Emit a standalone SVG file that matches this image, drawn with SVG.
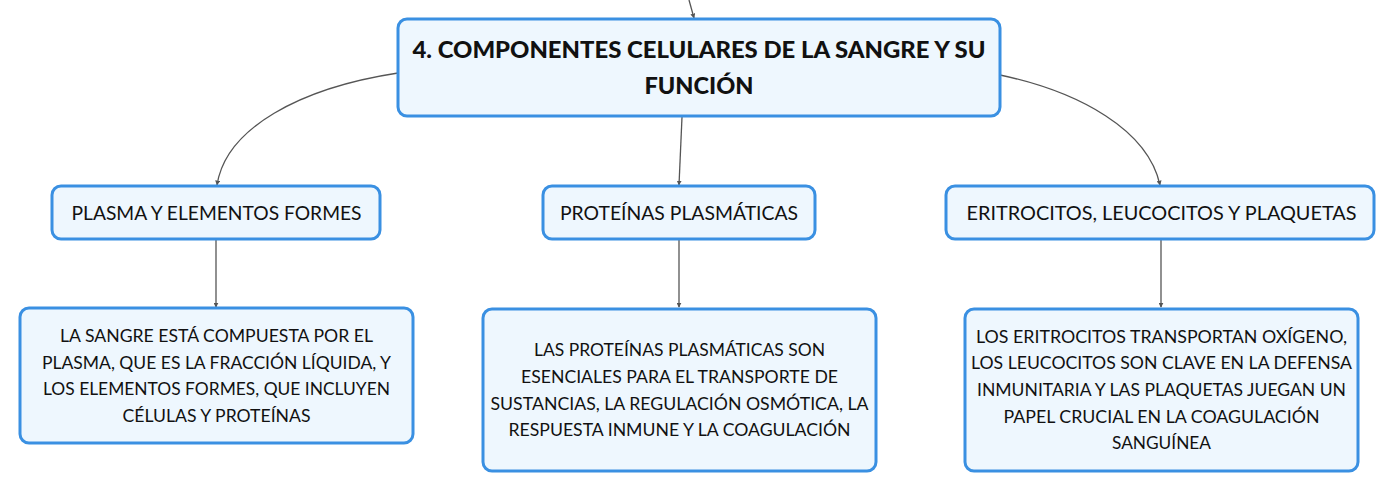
<svg xmlns="http://www.w3.org/2000/svg" width="1398" height="492" viewBox="0 0 1398 492">
<defs>
<style>
.box{fill:#eef7fe;stroke:#3a90e2;stroke-width:3}
.t{font-family:Lato,"Liberation Sans",sans-serif;fill:#111;text-anchor:middle}
.title{font-size:22px;font-weight:900}
.l2{font-size:18.5px}
.l3{font-size:17px}
.c{fill:none;stroke:#555;stroke-width:1.3}
</style>
<marker id="ah" viewBox="0 0 8 8" refX="7" refY="4" markerWidth="5" markerHeight="5" orient="auto" markerUnits="userSpaceOnUse">
<path d="M0,0 L8,4 L0,8 z" fill="#555"/>
</marker>
</defs>
<rect width="1398" height="492" fill="#fff"/>
<g id="connectors">
<path class="c" d="M689,0 L694,18" marker-end="url(#ah)"/>
<path class="c" d="M398,73 C300,88 226,128 217,185" marker-end="url(#ah)"/>
<path class="c" d="M682,117 L679,185" marker-end="url(#ah)"/>
<path class="c" d="M1000,75 C1080,92 1148,130 1160,185" marker-end="url(#ah)"/>
<path class="c" d="M216,239 L216,307" marker-end="url(#ah)"/>
<path class="c" d="M679,239 L679,307" marker-end="url(#ah)"/>
<path class="c" d="M1161,239 L1161,307" marker-end="url(#ah)"/>
</g>
<g id="root">
<rect class="box" x="398" y="19" width="602" height="97" rx="9"/>
<text class="t title" x="699" y="58" textLength="573" lengthAdjust="spacingAndGlyphs">4. COMPONENTES CELULARES DE LA SANGRE Y SU</text>
<text class="t title" x="699" y="94" textLength="109" lengthAdjust="spacingAndGlyphs">FUNCIÓN</text>
</g>
<g id="plasma">
<rect class="box" x="52" y="186" width="328" height="53" rx="9"/>
<text class="t l2" x="216.5" y="220" textLength="290" lengthAdjust="spacingAndGlyphs">PLASMA Y ELEMENTOS FORMES</text>
</g>
<g id="proteinas">
<rect class="box" x="543" y="186" width="272" height="53" rx="9"/>
<text class="t l2" x="679" y="220" textLength="238" lengthAdjust="spacingAndGlyphs">PROTEÍNAS PLASMÁTICAS</text>
</g>
<g id="eritrocitos">
<rect class="box" x="946" y="186" width="428" height="53" rx="9"/>
<text class="t l2" x="1161.5" y="220" textLength="390" lengthAdjust="spacingAndGlyphs">ERITROCITOS, LEUCOCITOS Y PLAQUETAS</text>
</g>
<g id="plasma-desc">
<rect class="box" x="20" y="308" width="393" height="135" rx="9"/>
<text class="t l3" x="216.5" y="342" textLength="313" lengthAdjust="spacingAndGlyphs">LA SANGRE ESTÁ COMPUESTA POR EL</text>
<text class="t l3" x="216.5" y="368.7" textLength="349" lengthAdjust="spacingAndGlyphs">PLASMA, QUE ES LA FRACCIÓN LÍQUIDA, Y</text>
<text class="t l3" x="216.5" y="395.4" textLength="347" lengthAdjust="spacingAndGlyphs">LOS ELEMENTOS FORMES, QUE INCLUYEN</text>
<text class="t l3" x="216.5" y="422" textLength="188" lengthAdjust="spacingAndGlyphs">CÉLULAS Y PROTEÍNAS</text>
</g>
<g id="proteinas-desc">
<rect class="box" x="483" y="309" width="393" height="162" rx="9"/>
<text class="t l3" x="679.5" y="356" textLength="291" lengthAdjust="spacingAndGlyphs">LAS PROTEÍNAS PLASMÁTICAS SON</text>
<text class="t l3" x="679.5" y="382.8" textLength="317" lengthAdjust="spacingAndGlyphs">ESENCIALES PARA EL TRANSPORTE DE</text>
<text class="t l3" x="679.5" y="409.6" textLength="378" lengthAdjust="spacingAndGlyphs">SUSTANCIAS, LA REGULACIÓN OSMÓTICA, LA</text>
<text class="t l3" x="679.5" y="436.4" textLength="342" lengthAdjust="spacingAndGlyphs">RESPUESTA INMUNE Y LA COAGULACIÓN</text>
</g>
<g id="eritrocitos-desc">
<rect class="box" x="965" y="309" width="393" height="162" rx="9"/>
<text class="t l3" x="1161.5" y="342.7" textLength="371" lengthAdjust="spacingAndGlyphs">LOS ERITROCITOS TRANSPORTAN OXÍGENO,</text>
<text class="t l3" x="1161.5" y="369.4" textLength="381" lengthAdjust="spacingAndGlyphs">LOS LEUCOCITOS SON CLAVE EN LA DEFENSA</text>
<text class="t l3" x="1161.5" y="396" textLength="369" lengthAdjust="spacingAndGlyphs">INMUNITARIA Y LAS PLAQUETAS JUEGAN UN</text>
<text class="t l3" x="1161.5" y="422.7" textLength="316" lengthAdjust="spacingAndGlyphs">PAPEL CRUCIAL EN LA COAGULACIÓN</text>
<text class="t l3" x="1161.5" y="449.3" textLength="99" lengthAdjust="spacingAndGlyphs">SANGUÍNEA</text>
</g>
</svg>
